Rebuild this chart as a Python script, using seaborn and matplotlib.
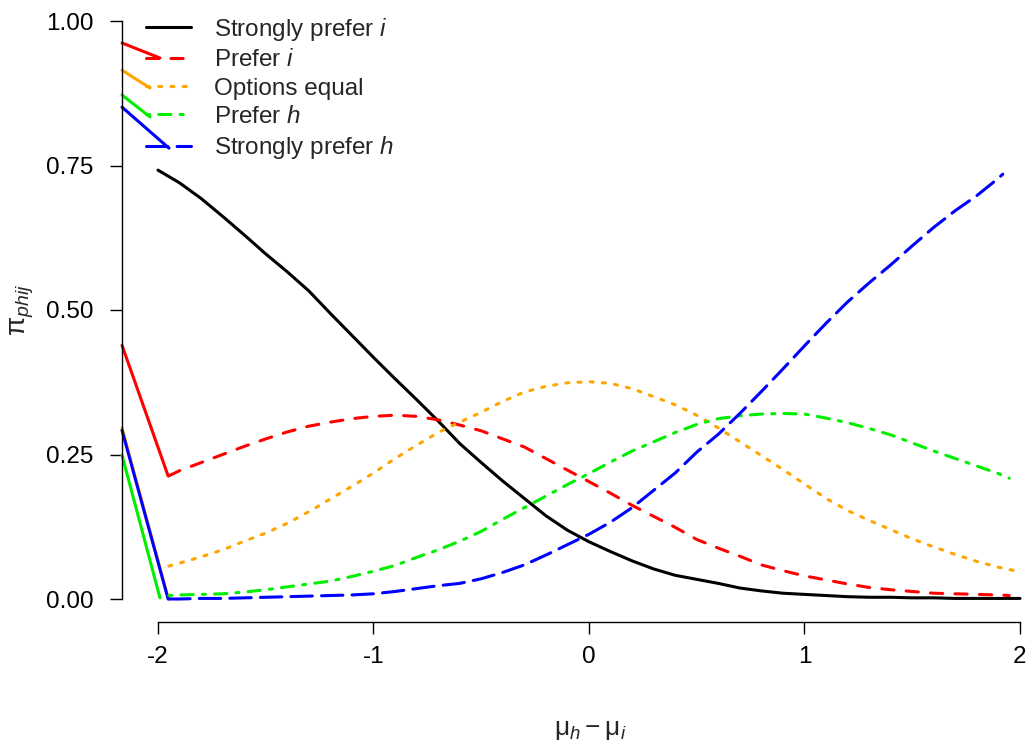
import numpy as np
import pandas as pd
import seaborn as sns
import matplotlib
matplotlib.use("Agg")
from matplotlib import pyplot as plt
from matplotlib.lines import Line2D

# ---- data ----
labels = ["Strongly prefer i", "Prefer i", "Options equal", "Prefer h", "Strongly prefer h"]
legend_text = ["Strongly prefer $i$", "Prefer $i$", "Options equal", "Prefer $h$", "Strongly prefer $h$"]
colors = ["black", "red", "orange", "#00ee00", "blue"]

x_sp_i = [-2.0, -1.9, -1.8, -1.7, -1.6, -1.5, -1.4, -1.3, -1.2, -1.1, -1.0, -0.9, -0.8, -0.7, -0.6,
          -0.5, -0.4, -0.3, -0.2, -0.1, 0.0, 0.1, 0.2, 0.3, 0.4, 0.5, 0.6, 0.7, 0.8, 0.9, 1.0,
          1.1, 1.2, 1.3, 1.4, 1.5, 1.6, 1.7, 1.8, 1.9, 2.0]
p_sp_i = [0.742, 0.72, 0.693, 0.662, 0.630, 0.597, 0.566, 0.533, 0.494, 0.456, 0.418, 0.381, 0.345,
          0.308, 0.269, 0.236, 0.204, 0.174, 0.144, 0.119, 0.099, 0.082, 0.066, 0.052, 0.041, 0.034,
          0.027, 0.019, 0.014, 0.010, 0.008, 0.006, 0.004, 0.003, 0.003, 0.002, 0.002, 0.001, 0.001,
          0.001, 0.001]

x_p_i = [-1.95, -1.9, -1.8, -1.7, -1.6, -1.5, -1.4, -1.3, -1.2, -1.1, -1.0, -0.9, -0.8, -0.7, -0.6,
         -0.5, -0.4, -0.3, -0.2, -0.1, 0.0, 0.1, 0.2, 0.3, 0.4, 0.5, 0.6, 0.7, 0.8, 0.9, 1.0,
         1.1, 1.2, 1.3, 1.4, 1.5, 1.6, 1.7, 1.8, 1.9, 1.95]
p_p_i = [0.213, 0.222, 0.236, 0.250, 0.264, 0.277, 0.289, 0.299, 0.306, 0.312, 0.316, 0.318, 0.316,
         0.310, 0.301, 0.291, 0.277, 0.263, 0.243, 0.223, 0.203, 0.183, 0.162, 0.143, 0.124, 0.103,
         0.088, 0.074, 0.059, 0.049, 0.040, 0.033, 0.026, 0.020, 0.016, 0.013, 0.010, 0.009, 0.008,
         0.007, 0.006]

x_eq = [-1.95, -1.9, -1.8, -1.7, -1.6, -1.5, -1.4, -1.3, -1.2, -1.1, -1.0, -0.9, -0.8, -0.7, -0.6,
        -0.5, -0.4, -0.3, -0.2, -0.1, 0.0, 0.1, 0.2, 0.3, 0.4, 0.5, 0.6, 0.7, 0.8, 0.9, 1.0,
        1.1, 1.2, 1.3, 1.4, 1.5, 1.6, 1.7, 1.8, 1.9, 2.0]
p_eq = [0.057, 0.062, 0.073, 0.085, 0.100, 0.114, 0.131, 0.151, 0.173, 0.195, 0.218, 0.243, 0.266,
        0.288, 0.306, 0.323, 0.342, 0.358, 0.368, 0.374, 0.376, 0.373, 0.364, 0.350, 0.336, 0.318,
        0.296, 0.272, 0.248, 0.224, 0.199, 0.174, 0.153, 0.136, 0.120, 0.104, 0.090, 0.077, 0.065,
        0.055, 0.047]

x_p_h = [-1.95, -1.9, -1.8, -1.7, -1.6, -1.5, -1.4, -1.3, -1.2, -1.1, -1.0, -0.9, -0.8, -0.7, -0.6,
         -0.5, -0.4, -0.3, -0.2, -0.1, 0.0, 0.1, 0.2, 0.3, 0.4, 0.5, 0.6, 0.7, 0.8, 0.9, 1.0,
         1.1, 1.2, 1.3, 1.4, 1.5, 1.6, 1.7, 1.8, 1.9, 1.95]
p_p_h = [0.006, 0.007, 0.008, 0.009, 0.012, 0.016, 0.021, 0.026, 0.031, 0.039, 0.048, 0.058, 0.072,
         0.085, 0.100, 0.117, 0.138, 0.158, 0.178, 0.198, 0.217, 0.237, 0.256, 0.272, 0.288, 0.302,
         0.312, 0.317, 0.320, 0.321, 0.320, 0.313, 0.305, 0.295, 0.284, 0.270, 0.256, 0.243, 0.230,
         0.217, 0.209]

x_sp_h = [-1.95, -1.9, -1.8, -1.7, -1.6, -1.5, -1.4, -1.3, -1.2, -1.1, -1.0, -0.9, -0.8, -0.7, -0.6,
          -0.5, -0.4, -0.3, -0.2, -0.1, 0.0, 0.1, 0.2, 0.3, 0.4, 0.5, 0.6, 0.7, 0.8, 0.9, 1.0,
          1.1, 1.2, 1.3, 1.4, 1.5, 1.6, 1.7, 1.8, 1.9, 1.92]
p_sp_h = [0.000, 0.000, 0.001, 0.001, 0.002, 0.003, 0.004, 0.005, 0.006, 0.007, 0.009, 0.013, 0.018,
          0.023, 0.027, 0.035, 0.046, 0.059, 0.076, 0.094, 0.112, 0.133, 0.158, 0.188, 0.218, 0.254,
          0.285, 0.321, 0.359, 0.398, 0.438, 0.477, 0.514, 0.547, 0.578, 0.611, 0.643, 0.672, 0.698,
          0.728, 0.735]

# solid stubs running in from the left edge of the plot (as in the reference)
stub_x_left = -2.167
stub_labels = ["Prefer i", "Options equal", "Prefer h", "Strongly prefer h"]
stub_top_y0 = [0.962, 0.915, 0.872, 0.851]
stub_top_x1 = [-1.991, -2.037, -2.037, -1.949]
stub_top_y1 = [0.936, 0.884, 0.834, 0.780]
stub_low_y0 = [0.439, 0.296, 0.249, 0.292]
stub_low_x1 = [-1.953, -1.953, -1.991, -1.953]
stub_low_y1 = [0.213, 0.002, 0.002, 0.000]

series_x = [x_sp_i, x_p_i, x_eq, x_p_h, x_sp_h]
series_p = [p_sp_i, p_p_i, p_eq, p_p_h, p_sp_h]

df = pd.concat([pd.DataFrame({"x": xs, "p": ps, "cat": lab})
                for xs, ps, lab in zip(series_x, series_p, labels)], ignore_index=True)

# R style line types (scaled by line width)
dash_map = {"Strongly prefer i": "", "Prefer i": (4, 4), "Options equal": (1, 3),
            "Prefer h": (1, 3, 4, 3), "Strongly prefer h": (7, 3)}
pal = dict(zip(labels, colors))

sns.set_style("ticks")
plt.rcParams['font.family'] = ['Liberation Sans', 'DejaVu Sans']
plt.rcParams['mathtext.fontset'] = 'custom'
plt.rcParams['mathtext.rm'] = 'Liberation Sans'
plt.rcParams['mathtext.it'] = 'Liberation Sans:italic'

fig = plt.figure(figsize=(10.28, 7.46), dpi=100)
ax = fig.add_axes([122 / 1028, 1 - 599 / 746, 898 / 1028, 578 / 746])

lw = 2.2
# stubs first (drawn underneath)
for lab, y0, x1, y1, y0b, x1b, y1b in zip(stub_labels, stub_top_y0, stub_top_x1, stub_top_y1,
                                          stub_low_y0, stub_low_x1, stub_low_y1):
    ax.plot([stub_x_left, x1], [y0, y1], color=pal[lab], lw=lw, solid_capstyle='round', clip_on=False)
    ax.plot([stub_x_left, x1b], [y0b, y1b], color=pal[lab], lw=lw, solid_capstyle='round', clip_on=False)

n_before = len(ax.lines)
sns.lineplot(data=df, x="x", y="p", hue="cat", style="cat", hue_order=labels, style_order=labels,
             palette=pal, dashes=dash_map, sort=False, estimator=None, lw=lw, legend=False, ax=ax)
for ln in ax.lines[n_before:]:
    ln.set_dash_capstyle('round')
    ln.set_solid_capstyle('round')
    ln.set_clip_on(False)

ax.set_xlim(-2.167, 2.0)
ax.set_ylim(0, 1)
ax.set_xticks([-2, -1, 0, 1, 2])
ax.set_xticklabels(["-2", "-1", "0", "1", "2"])
ax.set_yticks([0, 0.25, 0.5, 0.75, 1.0])
ax.set_yticklabels(["0.00", "0.25", "0.50", "0.75", "1.00"])

for s in ["top", "right"]:
    ax.spines[s].set_visible(False)
ax.spines["bottom"].set_position(("outward", 23 * 0.72))
ax.spines["bottom"].set_bounds(-2, 2)
ax.spines["left"].set_bounds(0, 1)
for s in ["bottom", "left"]:
    ax.spines[s].set_linewidth(1.0)
    ax.spines[s].set_color("black")

ax.tick_params(axis="both", colors="black", labelsize=17.5, length=8.6, width=1.0, direction="out")
ax.tick_params(axis="y", pad=12)
ax.tick_params(axis="x", pad=9)

ax.set_xlabel(r"$\mathrm{\mu}_h - \mathrm{\mu}_i$", fontsize=19)
ax.set_ylabel(r"$\mathrm{\pi}_{phij}$", fontsize=20)
ax.xaxis.set_label_coords(0.521, -0.226)
ax.xaxis.label.set_va("center")
ax.yaxis.set_label_coords(-0.111, 0.5)
ax.yaxis.label.set_va("center")

handles = [Line2D([], [], color=c, lw=lw, linestyle="-" if dash_map[l] == "" else (0, dash_map[l]),
                  dash_capstyle='round') for l, c in zip(labels, colors)]
ax.legend(handles, legend_text, loc="upper left", bbox_to_anchor=(146 / 1028, 1 - 16 / 746),
          bbox_transform=fig.transFigure, frameon=False, fontsize=17.5, borderpad=0,
          borderaxespad=0, handlelength=1.85, handletextpad=0.95, labelspacing=0.26)

fig.savefig("out.png", dpi=100, facecolor="white")
